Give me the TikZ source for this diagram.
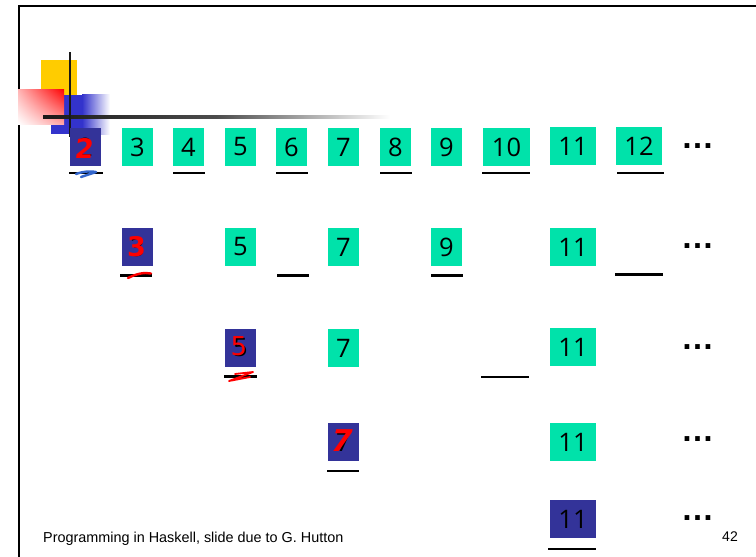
\documentclass[tikz,border=0pt]{standalone}
\usepackage{fontspec}
\usetikzlibrary{shadings}
\setmainfont{Liberation Sans}
\newfontfamily\numfont{Open Sans}
\newfontfamily\handfont{DejaVu Sans}
\definecolor{boxgreen}{RGB}{0,226,170}
\definecolor{boxblue}{RGB}{51,51,153}
\definecolor{logoyellow}{RGB}{255,204,0}
\definecolor{logoblue}{RGB}{51,51,204}
\definecolor{scribblue}{RGB}{51,102,204}
\tikzset{
 numbox/.style={inner sep=0pt, minimum height=38pt, minimum width=31pt, font=\numfont\fontsize{25.5}{25.5}\selectfont, text=black},
 greenbox/.style={numbox, fill=boxgreen},
 bluebox/.style={numbox, fill=boxblue},
 wide/.style={minimum width=46pt},
 uline/.style={line width=2.8pt, black},
 scribble/.style={line width=2.4pt, line cap=round, line join=round},
 handdigit/.style={text=red, inner sep=0pt, font=\handfont\bfseries\fontsize{27}{27}\selectfont},
 dotsnode/.style={inner sep=0pt, anchor=base, font=\bfseries\fontsize{33}{33}\selectfont},
}
\begin{document}
\begin{tikzpicture}[x=1pt,y=-1pt]
\useasboundingbox (0,0) rectangle (756,557);
% frame
\draw[line width=2.6pt, black] (19,557) -- (19,6) -- (756,6);
% logo
\fill[logoyellow] (41,60) rectangle (77,95);
\fill[logoblue] (51,95) rectangle (82,134);
\shade[left color=logoblue, right color=white] (82,94) rectangle (110,134);
\shade[upper right=red, upper left=red!30, lower left=white, lower right=red!35] (18,89) rectangle (64,124);
\shade[left color=black!90, right color=white, middle color=black!70] (43,115.8) rectangle (390,118.3);
\draw[line width=2.5pt, black!90] (70,52) -- (70,137);
% row 1
\node[bluebox] (a2) at (85.5,147) {2};
\node[handdigit, xslant=0.1] (h2) at (84.5,148) {2};
\node[greenbox] (a3) at (137.5,147) {3};
\node[greenbox] (a4) at (188.5,147) {4};
\node[greenbox] (a5) at (240.5,147) {5};
\node[greenbox] (a6) at (291.5,147) {6};
\node[greenbox] (a7) at (343.5,147) {7};
\node[greenbox] (a8) at (395.5,147) {8};
\node[greenbox] (a9) at (446.5,147) {9};
\node[greenbox, minimum width=47pt] (a10) at (506.5,147) {10};
\node[greenbox, wide] (a11) at (573,146) {11};
\node[greenbox, wide] (a12) at (639,146) {12};
\node[dotsnode] (ad) at (697.5,148.6) {…};
\draw[uline] (69,173) -- (103,173);
\draw[scribble, scribblue] (76,174) .. controls (84,171) and (92,171) .. (96,172) -- (81,177);
\draw[uline] (173,173) -- (205,173);
\draw[uline] (276,173) -- (308,173);
\draw[uline] (380,173) -- (412,173);
\draw[uline] (482,173) -- (530,173);
\draw[uline] (617,173) -- (664,173);
% row 2
\node[bluebox] (b3) at (137.5,247) {3};
\node[handdigit] (h3) at (136.5,247) {3};
\node[greenbox] (b5) at (240.5,247) {5};
\node[greenbox] (b7) at (343.5,247) {7};
\node[greenbox] (b9) at (446.5,247) {9};
\node[greenbox, wide] (b11) at (573,247) {11};
\node[dotsnode] (bd) at (697.5,248.6) {…};
\draw[uline] (120,275.5) -- (152,275.5);
\draw[scribble, red] (128,278) .. controls (136,274) and (144,272) .. (151,273.5);
\draw[uline] (277,275.5) -- (309,275.5);
\draw[uline] (431,275.5) -- (463,275.5);
\draw[uline] (615,274.5) -- (663,274.5);
% row 3
\node[bluebox] (c5) at (240.5,348) {5};
\node[handdigit, font=\handfont\fontsize{26}{26}\selectfont] (h5) at (239,346) {5};
\node[greenbox] (c7) at (343.5,348) {7};
\node[greenbox, wide] (c11) at (573,347) {11};
\node[dotsnode] (cd) at (697.5,349.6) {…};
\draw[uline] (224,376.5) -- (257,376.5);
\draw[scribble, red, line width=1.8pt] (235,374) -- (253,372) -- (229,381) -- (250,377);
\draw[uline] (481,377) -- (529,377);
% row 4
\node[bluebox] (d7) at (343.5,442) {7};
\node[handdigit, xslant=0.25, font=\handfont\bfseries\fontsize{30}{30}\selectfont] (h7) at (342,441) {7};
\node[greenbox, wide] (d11) at (573,442) {11};
\node[dotsnode] (dd) at (697.5,441.6) {…};
\draw[uline] (327,471) -- (359,471);
% row 5
\node[bluebox, wide] (e11) at (573,519) {11};
\node[dotsnode] (ed) at (697.5,520.6) {…};
\draw[uline] (548,549) -- (596,549);
% footer
\node[anchor=base west, inner sep=0pt, font=\fontsize{14.4}{14.4}\selectfont] (foot) at (43,542) {Programming in Haskell, slide due to G. Hutton};
\node[anchor=base east, inner sep=0pt, font=\fontsize{14}{14}\selectfont] (pg) at (738,541) {42};
\end{tikzpicture}
\end{document}
